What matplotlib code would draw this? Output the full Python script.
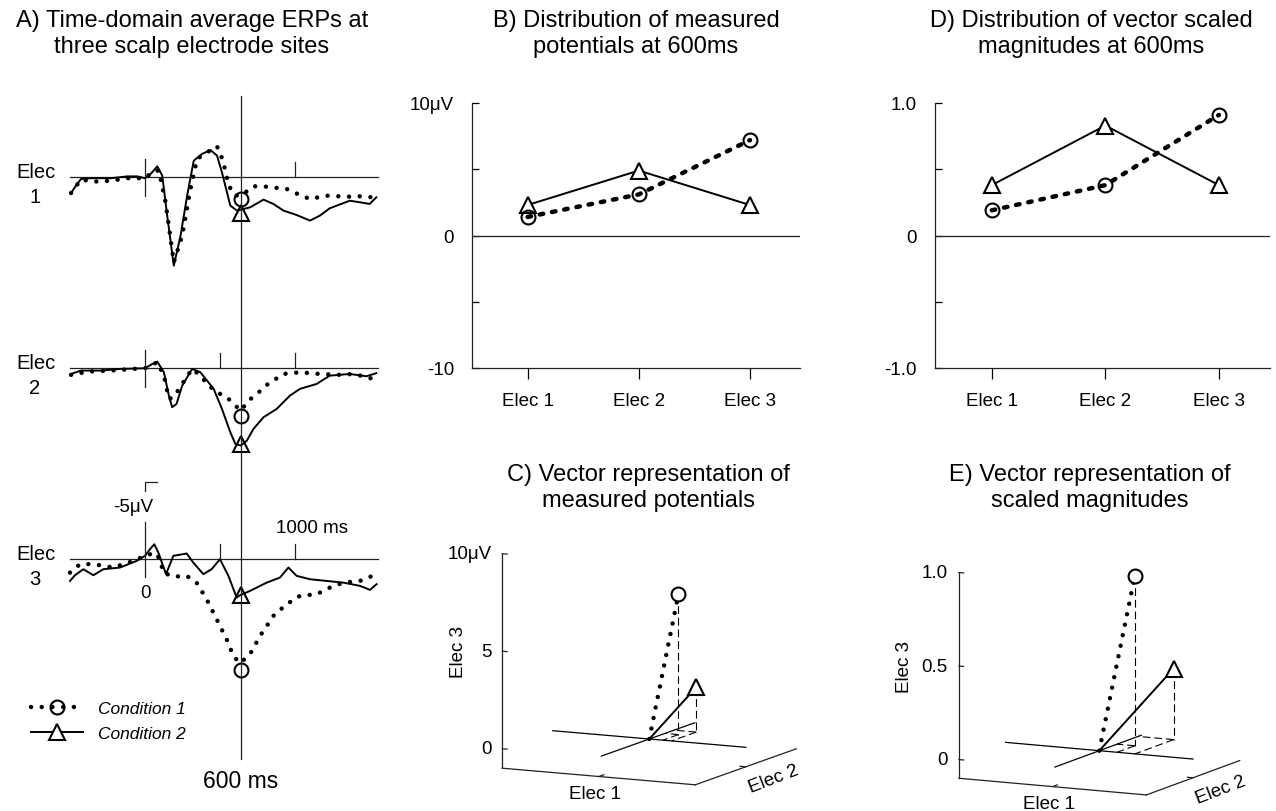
import numpy as np
import matplotlib.pyplot as plt
from matplotlib.lines import Line2D

plt.rcParams['font.family'] = ['Liberation Sans', 'DejaVu Sans']

# ---- data ----
electrodes = ['Elec 1', 'Elec 2', 'Elec 3']
conditions = ['Condition 1', 'Condition 2']

# measured potentials at 600 ms (uV)
pot_c1 = [1.4, 3.1, 7.2]
pot_c2 = [2.3, 4.9, 2.3]
# vector scaled magnitudes at 600 ms
mag_c1 = [0.19, 0.38, 0.91]
mag_c2 = [0.38, 0.83, 0.38]

# ERP waveforms (time in ms, amplitude in uV, negative plotted up)
t_e1_c1 = [-493, -427, -339, -228, -117, 0, 60, 93, 137, 192, 248, 303, 347, 414, 480, 520, 558, 602,
           646, 723, 812, 945, 1033, 1100, 1210, 1343, 1454, 1542]
v_e1_c1 = [1.02, 0.15, 0.28, 0.22, 0.06, 0.06, -0.43, -0.43, 1.62, 5.52, 3.79, 0.76, -1.19, -1.62, -2.01,
           -1.08, 0.54, 1.19, 1.15, 0.58, 0.61, 0.76, 1.15, 1.41, 1.19, 1.26, 1.23, 1.34]
t_e1_c2 = [-493, -460, -427, -361, -228, -117, -51, 0, 38, 82, 115, 148, 192, 237, 281, 325, 381, 436,
           480, 513, 569, 613, 639, 701, 790, 856, 923, 1011, 1100, 1166, 1232, 1365, 1431, 1498, 1542]
v_e1_c2 = [1.02, 0.54, 0.11, 0.06, 0.06, -0.06, -0.06, 0.06, -0.22, -0.71, -0.11, 2.49, 5.74, 3.79, 1.19,
           -1.08, -1.52, -1.77, -1.41, -0.32, 1.84, 2.16, 2.10, 1.95, 1.45, 1.73, 2.16, 2.45, 2.81, 2.49,
           2.01, 1.52, 1.62, 1.73, 1.30]

t_e2_c1 = [-493, -383, -228, -73, 0, 82, 126, 159, 192, 248, 314, 369, 425, 480, 546, 591, 639, 690,
           746, 812, 923, 1033, 1166, 1299, 1387, 1454, 1520]
v_e2_c1 = [0.43, 0.22, 0.15, 0.04, 0, -0.39, 0.48, 1.99, 1.88, 1.02, 0.04, 0.48, 1.13, 1.56, 1.88, 2.32,
           2.75, 2.10, 1.67, 1.08, 0.37, 0.26, 0.37, 0.43, 0.37, 0.52, 0.69]
t_e2_c2 = [-493, -427, -294, -162, 0, 49, 82, 126, 159, 181, 210, 248, 314, 369, 458, 513, 569, 602,
           639, 679, 723, 790, 878, 967, 1033, 1144, 1232, 1365, 1476, 1542]
v_e2_c2 = [0.37, 0.15, 0.15, 0.04, 0, -0.28, -0.43, 0.26, 1.77, 2.53, 2.32, 1.13, 0.04, 0.26, 1.34, 2.64,
           4.16, 4.91, 5.02, 4.70, 3.94, 3.18, 2.64, 1.77, 1.34, 1.02, 0.48, 0.37, 0.52, 0.32]

t_e3_c1 = [-500, -433, -344, -211, -78, -11, 67, 100, 122, 189, 278, 344, 411, 478, 544, 589, 633, 700,
           767, 856, 944, 1033, 1144, 1233, 1322, 1433, 1544]
v_e3_c1 = [0.87, 0.32, 0.32, 0.54, 0.11, -0.17, -0.43, 0, 0.87, 1.13, 1.08, 1.52, 2.60, 3.90, 5.19, 6.28,
           6.75, 6.17, 4.98, 3.68, 2.92, 2.38, 2.27, 1.84, 1.52, 1.41, 0.97]
t_e3_c2 = [-500, -467, -411, -344, -278, -167, -56, 0, 33, 62, 89, 140, 189, 278, 322, 389, 444, 500,
           556, 611, 633, 700, 811, 900, 956, 1011, 1100, 1211, 1322, 1433, 1500, 1544]
v_e3_c2 = [1.41, 1.04, 0.65, 1.04, 0.65, 0.54, 0.11, -0.22, -0.65, -0.97, -0.43, 0.97, -0.22, -0.37,
           0.22, 0.97, 0.65, 0, 1.08, 2.49, 2.34, 2.06, 1.52, 1.19, 0.54, 1.08, 1.30, 1.41, 1.52, 1.73,
           1.99, 1.62]

erp_c1 = [(t_e1_c1, v_e1_c1), (t_e2_c1, v_e2_c1), (t_e3_c1, v_e3_c1)]
erp_c2 = [(t_e1_c2, v_e1_c2), (t_e2_c2, v_e2_c2), (t_e3_c2, v_e3_c2)]
measure_t = 640   # where the "600 ms" line sits on the drawn time axis

# ---- styles ----
DOT = dict(color='k', ls=(0, (0.01, 2.4)), lw=3.2, dash_capstyle='round')
DASHDOT = dict(color='k', ls=(0, (0.8, 2.0)), lw=3.2, dash_capstyle='round')
SOLID = dict(color='k', ls='-', lw=1.4)
CIRC = dict(marker='o', ms=10, mfc='none', mec='k', mew=1.5)
TRI = dict(marker='^', ms=11, mfc='white', mec='k', mew=1.5)
AX = dict(color='#222222', lw=0.9)

W, H = 1276, 812
fig = plt.figure(figsize=(W / 100, H / 100), dpi=100)


def px_axes(left, top, right, bottom):
    return fig.add_axes([left / W, 1 - bottom / H, (right - left) / W, (bottom - top) / H])


# ---- titles ----
TF = 17
fig.text(192 / W, 1 - 34 / H, 'A) Time-domain average ERPs at\nthree scalp electrode sites',
         ha='center', va='center', fontsize=TF)
fig.text(636 / W, 1 - 34 / H, 'B) Distribution of measured\npotentials at 600ms',
         ha='center', va='center', fontsize=TF)
fig.text(1091 / W, 1 - 34 / H, 'D) Distribution of vector scaled\nmagnitudes at 600ms',
         ha='center', va='center', fontsize=TF)
fig.text(648 / W, 1 - 488 / H, 'C) Vector representation of\nmeasured potentials',
         ha='center', va='center', fontsize=TF)
fig.text(1090 / W, 1 - 488 / H, 'E) Vector representation of\nscaled magnitudes',
         ha='center', va='center', fontsize=TF)

# ---- panel A: ERPs ----
PXMS, PXUV = 0.15, 15.4
axA = px_axes(60, 90, 390, 790)
axA.set_xlim((60 - 145) / PXMS, (390 - 145) / PXMS)
axA.set_ylim((178.3 - 790) / PXUV, (178.3 - 90) / PXUV)
axA.axis('off')
offsets = [0, -12.4, -24.8]

for i, off in enumerate(offsets):
    axA.plot([-500, 1550], [off, off], **AX)
    t1, v1 = erp_c1[i]
    t2, v2 = erp_c2[i]
    axA.plot(t2, off - np.array(v2), **SOLID)
    axA.plot(t1, off - np.array(v1), **DOT)
    axA.plot(measure_t, off - pot_c2[i], ls='none', **{**TRI, 'mfc': 'none'})
    axA.plot(measure_t, off - pot_c1[i], ls='none', **CIRC)
    axA.text(-727, off + 0.4, 'Elec', ha='center', va='center', fontsize=14.5)
    axA.text(-735, off - 1.25, str(i + 1), ha='center', va='center', fontsize=14.5)
    axA.plot([1000, 1000], [off, off + 1.0], **AX)
    if i > 0:
        axA.plot([500, 500], [off, off + 1.0], **AX)
    if i < 2:
        axA.plot([0, 0], [off - 1.2, off + 1.2], **AX)
    else:
        axA.plot([0, 0], [off - 1.15, off + 2.4], **AX)
        # -5 uV scale mark
        axA.plot([0, 0, 80], [off + 4.4, off + 5, off + 5], **AX)
        axA.text(-80, off + 3.45, '-5μV', ha='center', va='center', fontsize=13.5)
        axA.text(1113, off + 2.05, '1000 ms', ha='center', va='center', fontsize=13.5)
        axA.text(0, off - 2.15, '0', ha='center', va='center', fontsize=13.5)

axA.plot([measure_t, measure_t], [5.28, -37.8], **AX)
axA.text(measure_t, -39.2, '600 ms', ha='center', va='center', fontsize=16.5)

handles = [Line2D([], [], **DOT, **CIRC), Line2D([], [], **SOLID, **TRI)]
axA.legend(handles, conditions, loc='upper left', bbox_to_anchor=(31 / W, 1 - 702 / H),
           bbox_transform=fig.transFigure, frameon=False, numpoints=1, handlelength=3.0,
           handletextpad=0.85, labelspacing=0.55, borderpad=0, borderaxespad=0,
           prop={'style': 'italic', 'size': 12.5})


# ---- panels B and D ----
def dist_panel(rect, c1, c2, lim, ylabels):
    ax = px_axes(*rect)
    x = np.arange(1, 4)
    ax.axhline(0, **AX)
    ax.plot(x, c2, **SOLID, **TRI)
    ax.plot(x, c1, **DASHDOT, **CIRC)
    ax.set_xlim(0.5, 3.45)
    ax.set_ylim(-lim, lim)
    ax.set_yticks(np.linspace(-lim, lim, 5), ylabels)
    ax.set_xticks(x, electrodes)
    for s in ['top', 'right']:
        ax.spines[s].set_visible(False)
    for s in ['left', 'bottom']:
        ax.spines[s].set_color('#222222')
        ax.spines[s].set_linewidth(0.9)
    ax.tick_params(axis='y', direction='in', length=5, width=0.9, pad=13, labelsize=13.5)
    ax.tick_params(axis='x', direction='out', length=8, width=0.9, pad=9, labelsize=13.5)
    return ax


dist_panel((472, 104, 800, 369), pot_c1, pot_c2, 10, ['-10', '', '0', '', '10μV'])
dist_panel((935, 104, 1270, 369), mag_c1, mag_c2, 1.0, ['-1.0', '', '0', '', '1.0'])


# ---- panels C and E: oblique 3-D vector views ----
def vector_panel(rect, origin, basis, R, c1, c2, zlabels, zlab_off):
    left, top, right, bottom = rect
    ax = px_axes(*rect)
    ox, oy = origin
    ax.set_xlim(left - ox, right - ox)
    ax.set_ylim(oy - bottom, oy - top)
    ax.axis('off')
    a1, a2, a3 = [np.array(b, float) for b in basis]

    def P(e1, e2, e3):
        e1, e2, e3 = (np.atleast_1d(np.asarray(v, float)) / R for v in (e1, e2, e3))
        p = np.outer(e1, a1) + np.outer(e2, a2) + np.outer(e3, a3)
        return p[:, 0], p[:, 1]

    zmin = -0.1 * R
    # box axes
    ax.plot(*P([-R, -R], [-R, -R], [zmin, R]), **AX)
    ax.plot(*P([-R, R], [-R, -R], [zmin, zmin]), **AX)
    ax.plot(*P([R, R], [-R, R], [zmin, zmin]), **AX)
    for z, lab in zip([0, R / 2, R], zlabels):
        ax.plot(*P([-R, -0.95 * R], [-R, -R], [z, z]), **AX)
        X, Y = P(-R, -R, z)
        ax.annotate(lab, (X[0], Y[0]), xytext=(-11, 0), textcoords='offset pixels',
                    ha='right', va='center', fontsize=13.5)
    X, Y = P(-R, -R, R / 2)
    ax.annotate('Elec 3', (X[0], Y[0]), xytext=(-zlab_off, 0), textcoords='offset pixels',
                ha='center', va='center', rotation=90, fontsize=13.5)
    ax.plot(*P([0, 0], [-R, -0.9 * R], [zmin, zmin]), **AX)
    ax.plot(*P([R, 0.94 * R], [0, 0], [zmin, zmin]), **AX)
    X, Y = P(0, -R, zmin)
    ax.annotate('Elec 1', (X[0], Y[0]), xytext=(-4, -17), textcoords='offset pixels',
                ha='center', va='center', fontsize=13.5)
    X, Y = P(R, 0, zmin)
    ax.annotate('Elec 2', (X[0], Y[0]), xytext=(28, -12), textcoords='offset pixels',
                ha='center', va='center', rotation=21, fontsize=13.5)
    # zero lines in the floor plane
    ax.plot(*P([-R, R], [0, 0], [0, 0]), color='k', lw=0.9)
    ax.plot(*P([0, 0], [-0.95 * R, 0.9 * R], [0, 0]), color='k', lw=0.9)
    # projections
    dash = dict(color='k', lw=0.8, ls=(0, (7, 3.5)))
    for e1, e2, e3 in (c1, c2):
        ax.plot(*P([e1, e1], [e2, e2], [e3, 0]), **dash)
        ax.plot(*P([e1, 0], [e2, e2], [0, 0]), **dash)
        ax.plot(*P([e1, e1], [e2, 0], [0, 0]), **dash)
    # vectors
    ax.plot(*P([0, c2[0]], [0, c2[1]], [0, c2[2]]), **SOLID)
    ax.plot(*P([0, c1[0]], [0, c1[1]], [0, c1[2]]), **DOT)
    ax.plot(*P(*c2), ls='none', **TRI)
    ax.plot(*P(*c1), ls='none', **{**CIRC, 'mfc': 'white'})
    return ax


vector_panel((430, 530, 840, 812), (649.3, 740),
             [(96.5, -8.3), (50.5, 18.0), (0, 195)], 10, pot_c1, pot_c2,
             ['0', '5', '10μV'], 44)
vector_panel((880, 540, 1276, 812), (1099.3, 751.7),
             [(93.7, -8.35), (46.7, 17.2), (0, 187)], 1.0, mag_c1, mag_c2,
             ['0', '0.5', '1.0'], 54)

fig.savefig('out.png', dpi=100)
